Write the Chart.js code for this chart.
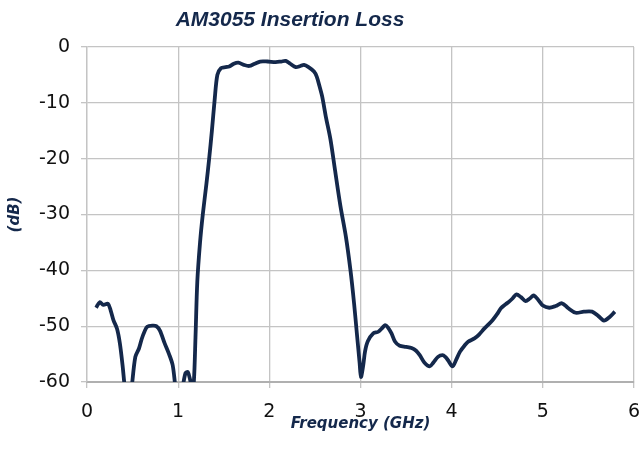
<!DOCTYPE html>
<html>
<head>
<meta charset="utf-8">
<script src="https://cdn.jsdelivr.net/npm/chart.js@4"></script>
<style>
  html, body { margin: 0; padding: 0; background: #ffffff; }
  #wrap { width: 642px; height: 460px; position: relative; }
</style>
</head>
<body>
<div id="wrap"><canvas id="c"></canvas></div>
<script>
const chartTitle = 'AM3055 Insertion Loss';
const xTitle = 'Frequency (GHz)';
const yTitle = '(dB)';

const freqGHz = [
  0.10, 0.14, 0.18, 0.23, 0.26, 0.29, 0.33, 0.36, 0.39, 0.42, 0.45, 0.49,
  0.53, 0.57, 0.60, 0.63, 0.66, 0.72, 0.76, 0.80, 0.85, 0.90, 0.94, 0.97,
  1.01, 1.05, 1.08, 1.105, 1.13, 1.15, 1.17, 1.19, 1.21, 1.24, 1.27, 1.31,
  1.34, 1.37, 1.40, 1.43, 1.47, 1.52, 1.56, 1.61, 1.66, 1.72, 1.78, 1.84,
  1.90, 1.98, 2.07, 2.13, 2.18, 2.23, 2.29, 2.34, 2.38, 2.43, 2.49, 2.52,
  2.55, 2.58, 2.62, 2.67, 2.72, 2.78, 2.84, 2.89, 2.93, 2.96, 2.99, 3.005,
  3.03, 3.05, 3.08, 3.14, 3.195, 3.24, 3.27, 3.30, 3.34, 3.38, 3.43, 3.50,
  3.56, 3.61, 3.65, 3.70, 3.76, 3.80, 3.85, 3.90, 3.93, 3.96, 4.01, 4.05,
  4.09, 4.14, 4.18, 4.25, 4.30, 4.36, 4.41, 4.45, 4.50, 4.54, 4.59, 4.63,
  4.67, 4.71, 4.76, 4.81, 4.86, 4.90, 4.95, 5.00, 5.07, 5.14, 5.21, 5.28,
  5.36, 5.45, 5.54, 5.61, 5.67, 5.73, 5.79
];
const lossDB = [
  -46.7, -45.7, -46.2, -46.0, -47.2, -48.9, -50.5, -53.0, -57.0, -62.0, -66.0, -61.0,
  -55.5, -54.0, -52.3, -51.0, -50.1, -49.9, -50.0, -50.8, -53.0, -55.0, -57.0, -61.0,
  -66.0, -61.0, -58.4, -58.2, -59.5, -61.0, -60.5, -52.0, -42.0, -35.0, -30.0, -24.5,
  -20.0, -15.0, -9.5, -5.0, -3.8, -3.6, -3.5, -3.0, -2.8, -3.2, -3.4, -3.0,
  -2.6, -2.6, -2.7, -2.6, -2.5, -3.0, -3.6, -3.4, -3.2, -3.6, -4.4, -5.3,
  -7.0, -8.9, -12.5, -16.5, -22.0, -28.5, -34.0, -40.0, -46.0, -51.3, -56.5, -59.1,
  -57.0, -54.5, -52.7, -51.3, -51.0, -50.3, -49.8, -50.2, -51.3, -52.8, -53.5, -53.7,
  -53.9, -54.4, -55.2, -56.5, -57.2, -56.5, -55.5, -55.2, -55.5, -56.1, -57.2, -56.0,
  -54.6, -53.5, -52.8, -52.2, -51.5, -50.4, -49.6, -48.9, -47.8, -46.8, -46.1, -45.6,
  -45.0, -44.3, -44.8, -45.5, -45.0, -44.5, -45.3, -46.3, -46.7, -46.4, -45.9, -46.8,
  -47.6, -47.4, -47.4, -48.2, -49.0, -48.4, -47.4
];
const xTicks = [0, 1, 2, 3, 4, 5, 6];
const yTicks = [0, -10, -20, -30, -40, -50, -60];

const points = freqGHz.map((f, i) => ({ x: f, y: lossDB[i] }));
const lineColor = '#14284b';
const gridColor = '#c4c4c4';
const fontFam = '"DejaVu Sans", sans-serif';

const titlePlugin = {
  id: 'fixedTitle',
  afterDraw(chart) {
    const ctx = chart.ctx;
    ctx.save();
    ctx.fillStyle = lineColor;
    ctx.font = 'italic bold 21px "Liberation Sans", sans-serif';
    ctx.textAlign = 'center';
    ctx.textBaseline = 'middle';
    ctx.fillText(chartTitle, 290, 20);
    ctx.restore();
  }
};

new Chart(document.getElementById('c'), {
  type: 'scatter',
  data: {
    datasets: [{
      data: points,
      showLine: true,
      borderColor: lineColor,
      backgroundColor: lineColor,
      borderWidth: 3.8,
      pointRadius: 0,
      tension: 0.3,
      clip: 0
    }]
  },
  plugins: [titlePlugin],
  options: {
    responsive: true,
    maintainAspectRatio: false,
    animation: false,
    devicePixelRatio: 1,
    layout: { padding: { left: 4, right: 8, top: 47, bottom: 0 } },
    plugins: {
      legend: { display: false },
      tooltip: { enabled: false },
      title: { display: false }
    },
    scales: {
      x: {
        type: 'linear',
        min: 0, max: 6,
        afterBuildTicks: (s) => { s.ticks = xTicks.map(v => ({ value: v })); },
        afterFit: (s) => { s.height = 78; s.paddingLeft = 0; s.paddingRight = 0; },
        ticks: { color: '#111', font: { family: fontFam, size: 19 }, padding: 13,
                 callback: (v) => String(v) },
        grid: { color: gridColor, lineWidth: 1.3, tickLength: 6 },
        border: { color: '#b0b0b0', width: 2 },
        title: {
          display: true, text: xTitle, color: lineColor,
          font: { family: fontFam, size: 15, weight: 'bold', style: 'italic' },
          padding: { top: 0, bottom: 27 }
        }
      },
      y: {
        type: 'linear',
        min: -60, max: 0,
        afterBuildTicks: (s) => { s.ticks = yTicks.map(v => ({ value: v })); },
        afterFit: (s) => { s.width = 83; s.paddingTop = 0; s.paddingBottom = 0; },
        ticks: { color: '#111', font: { family: fontFam, size: 19 }, padding: 11,
                 callback: (v) => String(v) },
        grid: { color: gridColor, lineWidth: 1.3, tickLength: 6 },
        border: { color: '#c4c4c4', width: 1.3 },
        title: {
          display: true, text: yTitle, color: lineColor,
          font: { family: fontFam, size: 15, weight: 'bold', style: 'italic' },
          padding: { top: 2, bottom: 0 }
        }
      }
    }
  }
});
</script>
</body>
</html>
